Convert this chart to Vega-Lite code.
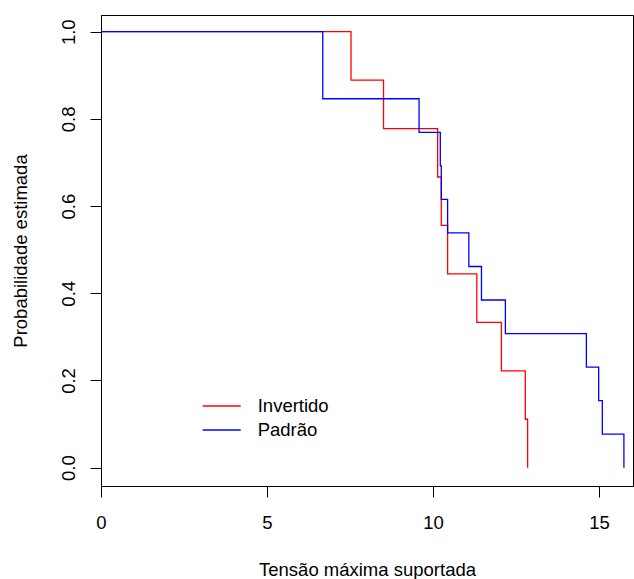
{
  "$schema": "https://vega.github.io/schema/vega-lite/v6.json",
  "width": 532,
  "height": 471,
  "autosize": {"type": "none"},
  "padding": {"left": 101, "top": 15, "right": 1, "bottom": 93},
  "background": "white",
  "config": {
    "font": "Liberation Sans",
    "view": {"stroke": "black", "strokeWidth": 1},
    "axis": {
      "domainColor": "black",
      "tickColor": "black",
      "labelColor": "black",
      "titleColor": "black",
      "grid": false,
      "labelFontSize": 18.5,
      "titleFontSize": 18.5,
      "titleFontWeight": "normal",
      "tickSize": 11,
      "labelFont": "Liberation Sans",
      "titleFont": "Liberation Sans"
    }
  },
  "data": {
    "values": [
      {"tempo": 0, "prob": 1, "grupo": "Invertido"},
      {"tempo": 7.53, "prob": 0.8889, "grupo": "Invertido"},
      {"tempo": 8.51, "prob": 0.7778, "grupo": "Invertido"},
      {"tempo": 10.14, "prob": 0.6667, "grupo": "Invertido"},
      {"tempo": 10.25, "prob": 0.5556, "grupo": "Invertido"},
      {"tempo": 10.44, "prob": 0.4444, "grupo": "Invertido"},
      {"tempo": 11.32, "prob": 0.3333, "grupo": "Invertido"},
      {"tempo": 12.06, "prob": 0.2222, "grupo": "Invertido"},
      {"tempo": 12.78, "prob": 0.1111, "grupo": "Invertido"},
      {"tempo": 12.85, "prob": 0, "grupo": "Invertido"},
      {"tempo": 0, "prob": 1, "grupo": "Padrão"},
      {"tempo": 6.68, "prob": 0.8462, "grupo": "Padrão"},
      {"tempo": 9.58, "prob": 0.7692, "grupo": "Padrão"},
      {"tempo": 10.22, "prob": 0.6923, "grupo": "Padrão"},
      {"tempo": 10.25, "prob": 0.6154, "grupo": "Padrão"},
      {"tempo": 10.44, "prob": 0.5385, "grupo": "Padrão"},
      {"tempo": 11.08, "prob": 0.4615, "grupo": "Padrão"},
      {"tempo": 11.46, "prob": 0.3846, "grupo": "Padrão"},
      {"tempo": 12.18, "prob": 0.3077, "grupo": "Padrão"},
      {"tempo": 14.62, "prob": 0.2308, "grupo": "Padrão"},
      {"tempo": 14.99, "prob": 0.1538, "grupo": "Padrão"},
      {"tempo": 15.10, "prob": 0.0769, "grupo": "Padrão"},
      {"tempo": 15.75, "prob": 0, "grupo": "Padrão"}
    ]
  },
  "mark": {"type": "line", "interpolate": "step-after", "strokeWidth": 1.3, "clip": true},
  "encoding": {
    "x": {
      "field": "tempo",
      "type": "quantitative",
      "scale": {"domain": [0, 16.024], "nice": false, "zero": false},
      "axis": {
        "values": [0, 5, 10, 15],
        "title": "Tensão máxima suportada",
        "labelBaseline": "alphabetic",
        "labelPadding": 31,
        "labelFlush": false,
        "titleBaseline": "alphabetic",
        "titleY": 89,
        "titleX": 266
      }
    },
    "y": {
      "field": "prob",
      "type": "quantitative",
      "scale": {"domain": [-0.042, 1.0383], "nice": false, "zero": false},
      "axis": {
        "values": [0, 0.2, 0.4, 0.6, 0.8, 1.0],
        "format": ".1f",
        "title": "Probabilidade estimada",
        "labelAngle": 270,
        "labelAlign": "center",
        "labelBaseline": "alphabetic",
        "labelPadding": 16,
        "labelFlush": false,
        "titleAngle": 270,
        "titleAlign": "center",
        "titleBaseline": "alphabetic",
        "titleX": -74.3,
        "titleY": 235.5
      }
    },
    "color": {
      "field": "grupo",
      "type": "nominal",
      "scale": {"domain": ["Invertido", "Padrão"], "range": ["#FF0000", "#0000FF"]},
      "legend": {
        "title": null,
        "orient": "none",
        "legendX": 100.7,
        "legendY": 379,
        "padding": 0,
        "symbolType": "stroke",
        "symbolSize": 1444,
        "symbolStrokeWidth": 1.3,
        "labelFontSize": 18.5,
        "labelColor": "black",
        "labelOffset": 16,
        "clipHeight": 24,
        "rowPadding": 0
      }
    }
  }
}
